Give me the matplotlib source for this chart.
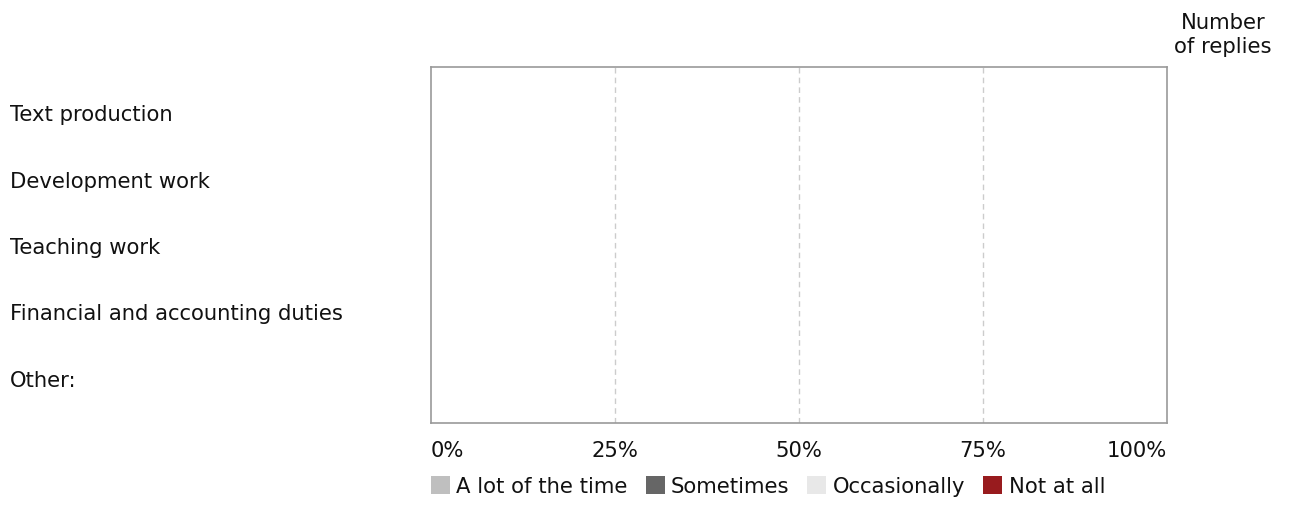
import matplotlib
matplotlib.use("Agg")
import matplotlib.pyplot as plt
import matplotlib.transforms as mtransforms
from matplotlib.patches import Patch
import numpy as np

categories = ["Text production", "Development work", "Teaching work",
              "Financial and accounting duties", "Other:"]
series_names = ["A lot of the time", "Sometimes", "Occasionally", "Not at all"]
series_colors = ["#bfbfbf", "#666666", "#e8e8e8", "#981b1e"]
a_lot = [0, 0, 0, 0, 0]
sometimes = [0, 0, 0, 0, 0]
occasionally = [0, 0, 0, 0, 0]
not_at_all = [0, 0, 0, 0, 0]
x_ticks = [0, 25, 50, 75, 100]
x_tick_labels = ["0%", "25%", "50%", "75%", "100%"]

plt.rcParams['font.family'] = ['DejaVu Sans']
FS = 15.2

W, H = 1291, 510
fig = plt.figure(figsize=(W / 100, H / 100), dpi=100)
ax = fig.add_axes([431 / W, (H - 424) / H, (1167 - 431) / W, (424 - 68) / H])

y = np.arange(len(categories))
left = np.zeros(len(categories))
for vals, col, name in zip([a_lot, sometimes, occasionally, not_at_all], series_colors, series_names):
    ax.barh(y, vals, left=left, color=col, height=0.6, label=name)
    left = left + np.array(vals)

ax.set_xlim(0, 100)
ax.set_ylim(4.647, -0.707)
ax.set_yticks([])
ax.set_xticks(x_ticks)
ax.set_xticklabels(x_tick_labels, fontsize=FS, color="#111111")
tl = ax.get_xticklabels()
tl[0].set_ha("left")
tl[-1].set_ha("right")
ax.tick_params(axis="x", length=0, pad=12.5)
for xv in x_ticks[1:-1]:
    ax.axvline(xv, color="#cccccc", linestyle=(0, (4, 3)), linewidth=1)
for s in ax.spines.values():
    s.set_color("#999999")
    s.set_linewidth(1.2)

trans = mtransforms.blended_transform_factory(fig.transFigure, ax.transData)
for i, c in enumerate(categories):
    ax.text(10 / W, i, c, transform=trans, ha="left", va="center", fontsize=FS, color="#111111")

fig.text(1223 / W, 1 - 35 / H, "Number\nof replies", ha="center", va="center",
         fontsize=FS, color="#111111", linespacing=1.25)

handles = [Patch(facecolor=c, edgecolor="none") for c in series_colors]
leg = fig.legend(handles, series_names, loc="center left",
                 bbox_to_anchor=(431 / W, 1 - 487 / H), ncol=4, frameon=False,
                 fontsize=FS, handlelength=0.9, handleheight=0.9,
                 handletextpad=0.3, columnspacing=0.85, borderpad=0, borderaxespad=0)
for t in leg.get_texts():
    t.set_color("#111111")

fig.savefig("out.png", dpi=100)
